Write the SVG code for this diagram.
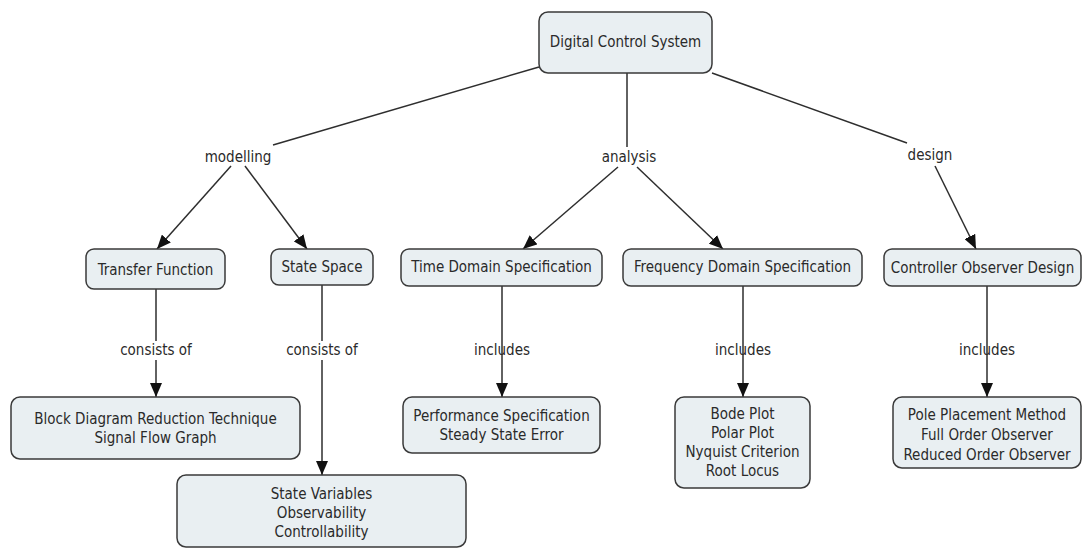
<svg xmlns="http://www.w3.org/2000/svg" width="1083" height="548" viewBox="0 0 1083 548">
  <style>
    .box { fill: #e9eff2; stroke: #3a3a3a; stroke-width: 1.5; }
    .t { font-family: "DejaVu Sans Condensed", "DejaVu Sans", sans-serif; font-size: 15px; fill: #2a2a2a; text-anchor: middle; }
    .ln { stroke: #2e2e2e; stroke-width: 1.5; fill: none; }
    .arr { marker-end: url(#head); }
  </style>
  <defs>
    <marker id="head" markerWidth="14" markerHeight="12" refX="14" refY="6" orient="auto" markerUnits="userSpaceOnUse">
      <path d="M0,0 L14,6 L0,12 z" fill="#111"/>
    </marker>
  </defs>
  <rect width="1083" height="548" fill="#ffffff"/>

  <!-- connectors -->
  <g id="connectors">
    <line class="ln" x1="539" y1="67" x2="273" y2="145"/>
    <line class="ln" x1="627" y1="73" x2="627" y2="147"/>
    <line class="ln" x1="712" y1="73" x2="907" y2="143"/>
    <line class="ln arr" x1="231" y1="166" x2="157" y2="249"/>
    <line class="ln arr" x1="245" y1="166" x2="307" y2="249"/>
    <line class="ln arr" x1="618" y1="167" x2="523" y2="249"/>
    <line class="ln arr" x1="637" y1="167" x2="723" y2="249"/>
    <line class="ln arr" x1="935" y1="166" x2="976" y2="249"/>
    <line class="ln" x1="156" y1="289" x2="156" y2="341"/>
    <line class="ln arr" x1="156" y1="360" x2="156" y2="397"/>
    <line class="ln" x1="322" y1="285" x2="322" y2="341"/>
    <line class="ln arr" x1="322" y1="360" x2="322" y2="475"/>
    <line class="ln arr" x1="502" y1="286" x2="502" y2="397"/>
    <line class="ln arr" x1="743" y1="286" x2="743" y2="397"/>
    <line class="ln arr" x1="987" y1="286" x2="987" y2="397"/>
  </g>

  <!-- link labels -->
  <g id="labels">
    <text class="t" x="238" y="162">modelling</text>
    <text class="t" x="629" y="162">analysis</text>
    <text class="t" x="930" y="160">design</text>
    <text class="t" x="156" y="355">consists of</text>
    <text class="t" x="322" y="355">consists of</text>
    <text class="t" x="502" y="355">includes</text>
    <text class="t" x="743" y="355">includes</text>
    <text class="t" x="987" y="355">includes</text>
  </g>

  <g id="n-digital-control-system">
    <rect class="box" x="539" y="12" width="173" height="61" rx="9"/>
    <text class="t" x="625.5" y="47">Digital Control System</text>
  </g>
  <g id="n-transfer-function">
    <rect class="box" x="86" y="249" width="139" height="40" rx="8"/>
    <text class="t" x="155.5" y="275">Transfer Function</text>
  </g>
  <g id="n-state-space">
    <rect class="box" x="271" y="249" width="102" height="36" rx="8"/>
    <text class="t" x="322" y="272">State Space</text>
  </g>
  <g id="n-time-domain">
    <rect class="box" x="401" y="249" width="201" height="37" rx="8"/>
    <text class="t" x="501.5" y="272">Time Domain Specification</text>
  </g>
  <g id="n-frequency-domain">
    <rect class="box" x="623" y="249" width="239" height="37" rx="8"/>
    <text class="t" x="742.5" y="272">Frequency Domain Specification</text>
  </g>
  <g id="n-controller-observer">
    <rect class="box" x="884" y="249" width="197" height="37" rx="8"/>
    <text class="t" x="982.5" y="273">Controller Observer Design</text>
  </g>
  <g id="n-block-diagram">
    <rect class="box" x="11" y="397" width="289" height="62" rx="9"/>
    <text class="t" x="155.5" y="424">Block Diagram Reduction Technique</text>
    <text class="t" x="155.5" y="443">Signal Flow Graph</text>
  </g>
  <g id="n-state-variables">
    <rect class="box" x="177" y="475" width="289" height="72" rx="9"/>
    <text class="t" x="321.5" y="499">State Variables</text>
    <text class="t" x="321.5" y="518">Observability</text>
    <text class="t" x="321.5" y="537">Controllability</text>
  </g>
  <g id="n-performance">
    <rect class="box" x="403" y="397" width="197" height="56" rx="9"/>
    <text class="t" x="501.5" y="421">Performance Specification</text>
    <text class="t" x="501.5" y="440">Steady State Error</text>
  </g>
  <g id="n-bode">
    <rect class="box" x="675" y="397" width="135" height="91" rx="9"/>
    <text class="t" x="742.5" y="419">Bode Plot</text>
    <text class="t" x="742.5" y="438">Polar Plot</text>
    <text class="t" x="742.5" y="457">Nyquist Criterion</text>
    <text class="t" x="742.5" y="476">Root Locus</text>
  </g>
  <g id="n-pole-placement">
    <rect class="box" x="893" y="397" width="188" height="71" rx="9"/>
    <text class="t" x="987" y="420">Pole Placement Method</text>
    <text class="t" x="987" y="440">Full Order Observer</text>
    <text class="t" x="987" y="460">Reduced Order Observer</text>
  </g>
</svg>
